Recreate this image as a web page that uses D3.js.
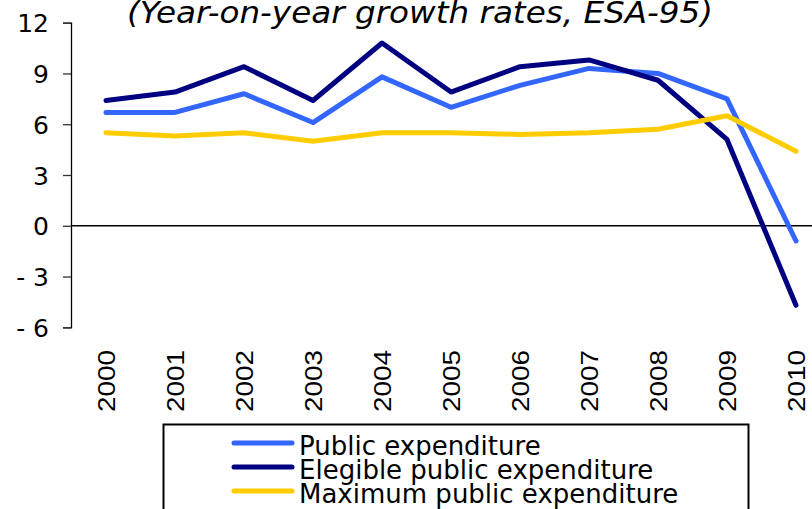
<!DOCTYPE html>
<html>
<head>
<meta charset="utf-8">
<script src="https://cdn.jsdelivr.net/npm/d3@7"></script>
<style>
  html, body { margin: 0; padding: 0; background: #fff; }
  svg { display: block; }
</style>
</head>
<body>
<svg id="chart" width="812" height="509"></svg>
<script>
// Growth of public expenditure, year-on-year (%)
const years = ["2000","2001","2002","2003","2004","2005","2006","2007","2008","2009","2010"];
const publicExp   = [6.7, 6.7, 7.8, 6.1, 8.8, 7.0, 8.3, 9.3, 9.0, 7.5, -0.9];
const elegibleExp = [7.4, 7.9, 9.4, 7.4, 10.8, 7.9, 9.4, 9.8, 8.6, 5.1, -4.7];
const maximumExp  = [5.5, 5.3, 5.5, 5.0, 5.5, 5.5, 5.4, 5.5, 5.7, 6.5, 4.4];
const yTicks = [12, 9, 6, 3, 0, -3, -6];
const seriesNames = ["Public expenditure", "Elegible public expenditure", "Maximum public expenditure"];
const seriesColors = ["#3366FF", "#000080", "#FFCC00"];
const title = "(Year-on-year growth rates, ESA-95)";

const series = [publicExp, elegibleExp, maximumExp].map((values, i) => ({
  name: seriesNames[i], color: seriesColors[i], values
}));

const svg = d3.select("#chart");
svg.append("rect").attr("width", 812).attr("height", 509).attr("fill", "#fff");

const axisX = 71;
const x = d3.scalePoint().domain(years).range([106, 796]);
const y = d3.scaleLinear().domain([-6, 12]).range([327.3, 22.7]);

// Title (partly clipped at the top edge)
svg.append("text")
  .attr("x", 127).attr("y", 23)
  .attr("font-family", "DejaVu Sans").attr("font-style", "italic")
  .attr("font-size", 30).attr("fill", "#000")
  .attr("textLength", 586).attr("lengthAdjust", "spacingAndGlyphs")
  .text(title);

// Value axis
const yAxis = d3.axisLeft(y).tickValues(yTicks).tickSize(8).tickPadding(0)
  .tickFormat(d => d < 0 ? "- " + Math.abs(d) : String(d));
const gy = svg.append("g").attr("transform", `translate(${axisX},0)`).call(yAxis);
gy.select(".domain").attr("stroke", "#000").attr("stroke-width", 1.3);
gy.selectAll(".tick line").attr("stroke", "#333").attr("stroke-width", 1.3);
gy.selectAll(".tick text")
  .attr("x", -22).attr("dy", "0.36em")
  .attr("font-family", "DejaVu Sans").attr("font-size", 25).attr("fill", "#000");

// Zero line (category axis)
svg.append("line")
  .attr("x1", axisX).attr("x2", 812)
  .attr("y1", y(0)).attr("y2", y(0))
  .attr("stroke", "#000").attr("stroke-width", 1.3);

// Year labels, rotated
const xAxis = d3.axisBottom(x).tickSize(0).tickPadding(0);
const gx = svg.append("g").attr("transform", "translate(0,350)").call(xAxis);
gx.select(".domain").remove();
gx.selectAll(".tick text")
  .attr("transform", "rotate(-90)")
  .attr("x", 0).attr("y", 0).attr("dy", "0.36em")
  .attr("text-anchor", "end")
  .attr("font-family", "Liberation Sans").attr("font-size", 23).attr("fill", "#000")
  .attr("textLength", 62).attr("lengthAdjust", "spacingAndGlyphs");

// Series lines
const line = d3.line().x((d, i) => x(years[i])).y(d => y(d));
svg.append("g").selectAll("path").data(series).join("path")
  .attr("d", d => line(d.values))
  .attr("fill", "none")
  .attr("stroke", d => d.color)
  .attr("stroke-width", 5)
  .attr("stroke-linejoin", "round")
  .attr("stroke-linecap", "round");

// Legend
const legend = svg.append("g");
legend.append("rect")
  .attr("x", 163.5).attr("y", 424.5).attr("width", 585).attr("height", 110)
  .attr("fill", "#fff").attr("stroke", "#000").attr("stroke-width", 2);
const rows = legend.selectAll("g.row").data(series).join("g").attr("class", "row")
  .attr("transform", (d, i) => `translate(0,${443 + i * 24})`);
rows.append("line")
  .attr("x1", 234).attr("x2", 292).attr("y1", 0).attr("y2", 0)
  .attr("stroke", d => d.color).attr("stroke-width", 5).attr("stroke-linecap", "round");
rows.append("text")
  .attr("x", 299).attr("y", 12)
  .attr("font-family", "DejaVu Sans").attr("font-size", 26).attr("fill", "#000")
  .text(d => d.name);
</script>
</body>
</html>
